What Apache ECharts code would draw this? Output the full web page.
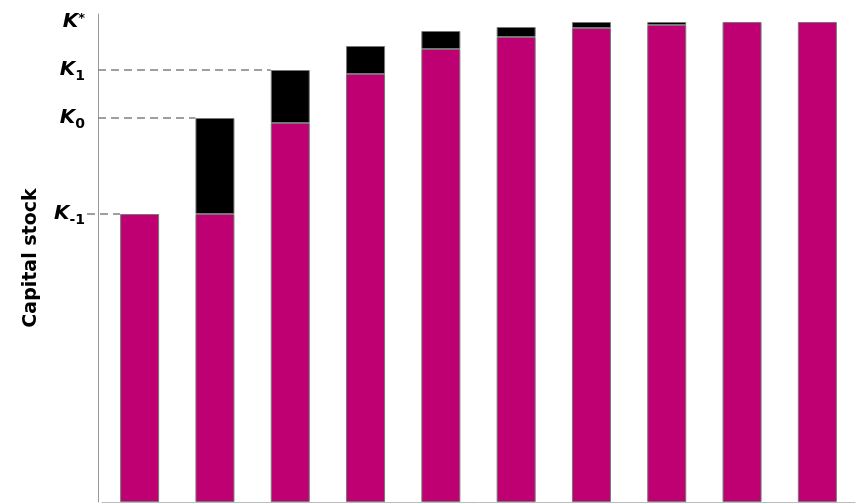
<!DOCTYPE html>
<html>
<head>
<meta charset="utf-8">
<script src="https://cdn.jsdelivr.net/npm/echarts@6/dist/echarts.min.js"></script>
<style>html,body{margin:0;padding:0;background:#fff}#c{width:858px;height:503px}</style>
</head>
<body>
<div id="c"></div>
<script>
const categories = ['t-1','t0','t1','t2','t3','t4','t5','t6','t7','t8'];
const carriedStock = [288, 288, 379, 428, 453, 465, 474, 477, 480, 480];
const investment = [null, 96, 53, 28, 18, 10, 6, 3, null, null];
const tickValues = [288, 384, 432, 480];
const tickLabels = ['{k|K}{s|-1}', '{k|K}{s|0}', '{k|K}{s|1}', '{k|K}{p|*}'];
const refLines = [[0, 288, true], [1, 384, false], [2, 432, false]];

const BAR_W = 39;
const chart = echarts.init(document.getElementById('c'));
chart.setOption({
  animation: false,
  grid: {left: 102, top: 14, width: 753, bottom: 1},
  xAxis: {
    type: 'category', data: categories,
    axisLine: {show: true, lineStyle: {color: '#bbb'}},
    axisTick: {show: false}, axisLabel: {show: false}
  },
  yAxis: {
    type: 'value', min: 0, max: 488, interval: 48, offset: 4,
    splitLine: {show: false},
    axisTick: {show: false},
    axisLine: {show: true, lineStyle: {color: '#999', width: 1}},
    name: 'Capital stock', nameLocation: 'middle', nameGap: 57,
    nameTextStyle: {fontFamily: 'DejaVu Sans', fontWeight: 'bold', fontSize: 19, color: '#000'},
    axisLabel: {
      margin: 13,
      showMaxLabel: false,
      formatter: function (v) {
        const i = tickValues.indexOf(v);
        return i >= 0 ? tickLabels[i] : '';
      },
      rich: {
        k: {fontFamily: 'DejaVu Sans', fontWeight: 'bold', fontStyle: 'italic', fontSize: 20, color: '#000', lineHeight: 24},
        s: {fontFamily: 'DejaVu Sans', fontWeight: 'bold', fontSize: 14, color: '#000', padding: [13, 0, 0, 0], lineHeight: 24},
        p: {fontFamily: 'DejaVu Sans', fontWeight: 'bold', fontSize: 13, color: '#000', padding: [0, 0, 7, 0], lineHeight: 24}
      }
    }
  },
  series: [
    {
      type: 'bar', stack: 'k', data: carriedStock, barWidth: BAR_W,
      itemStyle: {color: '#BE0073', borderColor: '#777', borderWidth: 1}
    },
    {
      type: 'bar', stack: 'k', data: investment, barWidth: BAR_W,
      itemStyle: {color: '#000', borderColor: '#777', borderWidth: 1}
    },
    {
      type: 'custom', data: refLines, silent: true, z: 1,
      renderItem: function (params, api) {
        const idx = api.value(0), val = api.value(1), ext = api.value(2);
        const p = api.coord([idx, val]);
        const axisX = params.coordSys.x - 4;
        const x1 = ext ? axisX - 11 : axisX;
        const x2 = p[0] - BAR_W / 2;
        return {
          type: 'line',
          shape: {x1: x1, y1: p[1], x2: x2, y2: p[1]},
          style: {stroke: '#808080', lineWidth: 1.3, lineDash: [8, 5]}
        };
      }
    }
  ]
});
</script>
</body>
</html>
